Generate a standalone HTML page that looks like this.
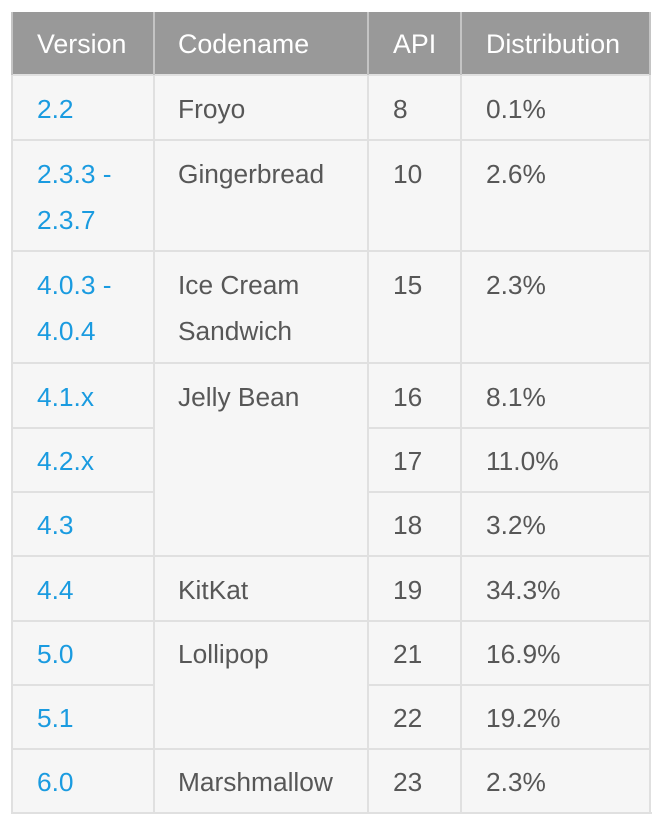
<!DOCTYPE html>
<html>
<head>
<meta charset="utf-8">
<style>
  html, body { margin:0; padding:0; background:#ffffff; }
  body { width:670px; height:823px; position:relative; overflow:hidden;
         font-family:"Liberation Sans", Arial, sans-serif; }
  .bg { position:absolute; left:12px; top:12px; width:638px; height:801px; background:#f6f6f6; }
  .hd { position:absolute; left:12px; top:12px; width:638px; height:63px; background:#999999; }
  .h { position:absolute; height:2px; background:#e0e0e0; }
  .v { position:absolute; width:2px; background:#e0e0e0; }
  .vh { position:absolute; width:2px; background:#c4c4c4; top:12px; height:63px; }
  .t { position:absolute; font-size:26.3px; line-height:46.7px; color:#575757; white-space:nowrap; }
  .l { color:#1a9be0; }
  .th { position:absolute; font-size:26.8px; line-height:46.7px; color:#ffffff; white-space:nowrap; top:21px; }
</style>
</head>
<body>
<div class="bg"></div>
<div class="hd"></div>

<!-- horizontal lines -->
<div class="h" style="left:12px;top:74px;width:638px;"></div>
<div class="h" style="left:12px;top:139px;width:638px;"></div>
<div class="h" style="left:12px;top:250px;width:638px;"></div>
<div class="h" style="left:12px;top:362px;width:638px;"></div>
<div class="h" style="left:12px;top:427px;width:142px;"></div>
<div class="h" style="left:368px;top:427px;width:282px;"></div>
<div class="h" style="left:12px;top:491px;width:142px;"></div>
<div class="h" style="left:368px;top:491px;width:282px;"></div>
<div class="h" style="left:12px;top:555px;width:638px;"></div>
<div class="h" style="left:12px;top:620px;width:638px;"></div>
<div class="h" style="left:12px;top:684px;width:142px;"></div>
<div class="h" style="left:368px;top:684px;width:282px;"></div>
<div class="h" style="left:12px;top:748px;width:638px;"></div>
<div class="h" style="left:12px;top:812px;width:640px;"></div>

<!-- vertical lines -->
<div class="v" style="left:11px;top:75px;height:739px;"></div>
<div class="v" style="left:153px;top:75px;height:739px;"></div>
<div class="v" style="left:367px;top:75px;height:739px;"></div>
<div class="v" style="left:460px;top:75px;height:739px;"></div>
<div class="v" style="left:649px;top:75px;height:739px;"></div>
<div class="vh" style="left:11px;"></div>
<div class="vh" style="left:153px;"></div>
<div class="vh" style="left:367px;"></div>
<div class="vh" style="left:460px;"></div>
<div class="vh" style="left:649px;"></div>

<!-- header -->
<div class="th" style="left:37px;">Version</div>
<div class="th" style="left:178px;">Codename</div>
<div class="th" style="left:393px;">API</div>
<div class="th" style="left:486px;">Distribution</div>

<!-- row 2.2 -->
<div class="t l" style="left:37px;top:85.5px;">2.2</div>
<div class="t" style="left:178px;top:85.5px;">Froyo</div>
<div class="t" style="left:393px;top:85.5px;">8</div>
<div class="t" style="left:486px;top:85.5px;">0.1%</div>

<!-- row 2.3.3 -->
<div class="t l" style="left:37px;top:150.5px;">2.3.3 -<br>2.3.7</div>
<div class="t" style="left:178px;top:150.5px;">Gingerbread</div>
<div class="t" style="left:393px;top:150.5px;">10</div>
<div class="t" style="left:486px;top:150.5px;">2.6%</div>

<!-- row 4.0.3 -->
<div class="t l" style="left:37px;top:261.5px;">4.0.3 -<br>4.0.4</div>
<div class="t" style="left:178px;top:261.5px;">Ice Cream<br>Sandwich</div>
<div class="t" style="left:393px;top:261.5px;">15</div>
<div class="t" style="left:486px;top:261.5px;">2.3%</div>

<!-- row 4.1.x -->
<div class="t l" style="left:37px;top:373.5px;">4.1.x</div>
<div class="t" style="left:178px;top:373.5px;">Jelly Bean</div>
<div class="t" style="left:393px;top:373.5px;">16</div>
<div class="t" style="left:486px;top:373.5px;">8.1%</div>

<!-- row 4.2.x -->
<div class="t l" style="left:37px;top:438px;">4.2.x</div>
<div class="t" style="left:393px;top:438px;">17</div>
<div class="t" style="left:486px;top:438px;">11.0%</div>

<!-- row 4.3 -->
<div class="t l" style="left:37px;top:502px;">4.3</div>
<div class="t" style="left:393px;top:502px;">18</div>
<div class="t" style="left:486px;top:502px;">3.2%</div>

<!-- row 4.4 -->
<div class="t l" style="left:37px;top:566.5px;">4.4</div>
<div class="t" style="left:178px;top:566.5px;">KitKat</div>
<div class="t" style="left:393px;top:566.5px;">19</div>
<div class="t" style="left:486px;top:566.5px;">34.3%</div>

<!-- row 5.0 -->
<div class="t l" style="left:37px;top:631px;">5.0</div>
<div class="t" style="left:178px;top:631px;">Lollipop</div>
<div class="t" style="left:393px;top:631px;">21</div>
<div class="t" style="left:486px;top:631px;">16.9%</div>

<!-- row 5.1 -->
<div class="t l" style="left:37px;top:695px;">5.1</div>
<div class="t" style="left:393px;top:695px;">22</div>
<div class="t" style="left:486px;top:695px;">19.2%</div>

<!-- row 6.0 -->
<div class="t l" style="left:37px;top:759px;">6.0</div>
<div class="t" style="left:178px;top:759px;">Marshmallow</div>
<div class="t" style="left:393px;top:759px;">23</div>
<div class="t" style="left:486px;top:759px;">2.3%</div>
</body>
</html>
